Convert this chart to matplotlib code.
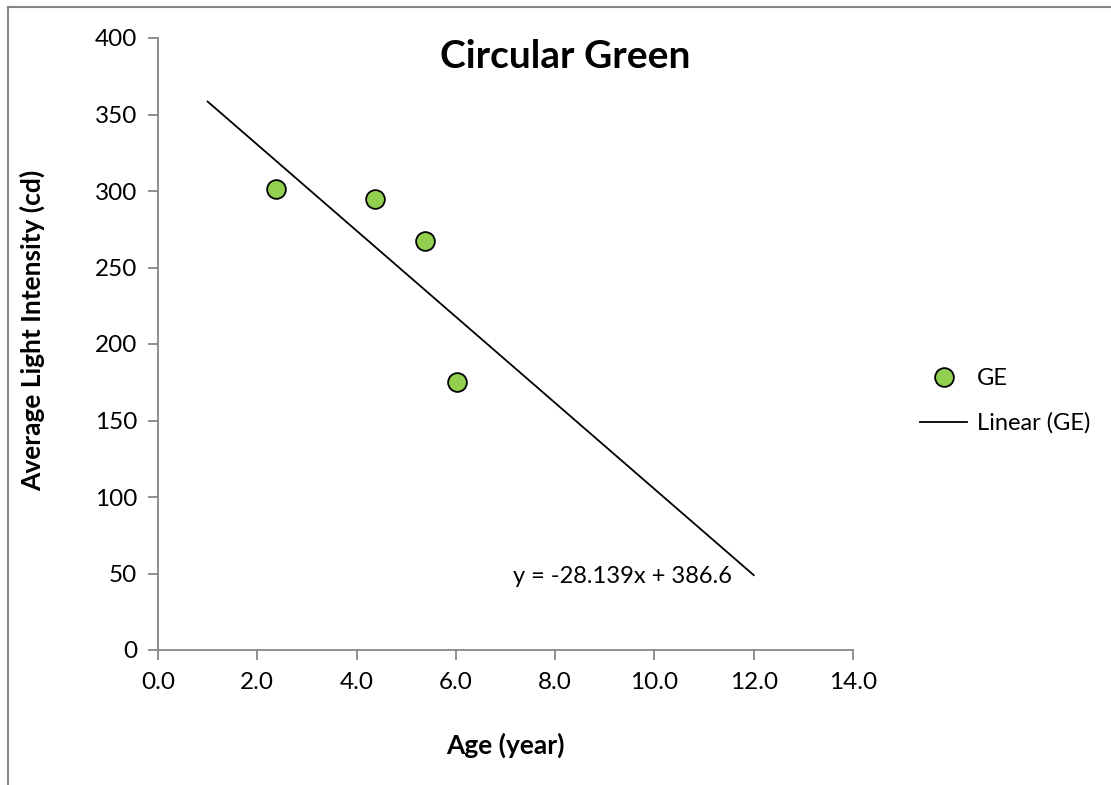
import numpy as np
import matplotlib
matplotlib.use('Agg')
import matplotlib.pyplot as plt
from matplotlib.lines import Line2D

#---------------Data---------------------------------
age = [2.38, 4.37, 5.38, 6.02]
intensity = [301, 295, 267, 175]
slope, intercept = -28.139, 386.6
trend_x = [1.0, 12.0]
x_ticks = [0, 2, 4, 6, 8, 10, 12, 14]
y_ticks = [0, 50, 100, 150, 200, 250, 300, 350, 400]

#---------------Style---------------------------------
plt.rcParams['font.family'] = ['Lato', 'DejaVu Sans']
green = '#92D050'
axis_gray = '#868686'

fig = plt.figure(figsize=(11.11, 7.85), dpi=100)
ax = fig.add_axes([158/1111, 1-650/785, (853-158)/1111, (650-38)/785])

trend_y = [slope*x + intercept for x in trend_x]
ax.plot(trend_x, trend_y, color='black', lw=1.3, label='Linear (GE)', zorder=2)
ax.plot(age, intensity, 'o', ms=13.5, mfc=green, mec='black', mew=1.3, label='GE', zorder=3, linestyle='none')

ax.set_xlim(0, 14)
ax.set_ylim(0, 400)
ax.set_xticks(x_ticks)
ax.set_xticklabels([f'{v:.1f}' for v in x_ticks])
ax.set_yticks(y_ticks)
for s in ['top', 'right']:
    ax.spines[s].set_visible(False)
for s in ['left', 'bottom']:
    ax.spines[s].set_color(axis_gray)
    ax.spines[s].set_linewidth(1.3)
ax.tick_params(colors=axis_gray, labelcolor='black', labelsize=17.5, width=1.3, length=7)
ax.tick_params(axis='x', pad=9)
ax.tick_params(axis='y', pad=8)

fig.text(565/1111, 1-57/785, 'Circular Green', fontsize=28, fontweight='bold', ha='center', va='center')
fig.text(505/1111, 1-745/785, 'Age (year)', fontsize=19, fontweight='bold', ha='center', va='center')
fig.text(32/1111, 1-330/785, 'Average Light Intensity (cd)', fontsize=19, fontweight='bold',
         ha='center', va='center', rotation=90)
ax.text(7.15, 48, 'y = -28.139x + 386.6', fontsize=17, ha='left', va='center')

handles = [Line2D([], [], marker='o', ms=13.5, mfc=green, mec='black', mew=1.3, linestyle='none'),
           Line2D([], [], color='black', lw=1.3)]
fig.legend(handles, ['GE', 'Linear (GE)'], loc='center left', bbox_to_anchor=(899/1111, 1-401/785),
           frameon=False, fontsize=17, handlelength=2.0, handletextpad=0.4, labelspacing=1.0)

# chart border
fig.add_artist(Line2D([8/1111, 1], [1-7/785, 1-7/785], color=axis_gray, lw=1.5, transform=fig.transFigure))
fig.add_artist(Line2D([8/1111, 8/1111], [1-7/785, 0], color=axis_gray, lw=1.5, transform=fig.transFigure))

fig.savefig('out.png', dpi=100)
